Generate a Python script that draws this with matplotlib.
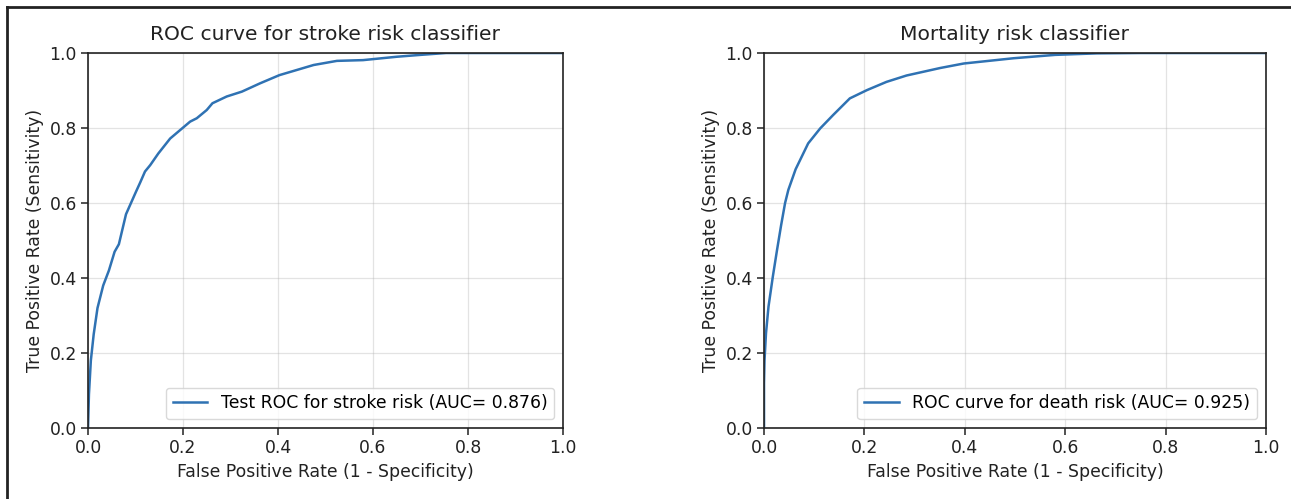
# ROC curves for the stroke and mortality risk classifiers
import matplotlib
matplotlib.use("Agg")
import matplotlib.pyplot as plt
from matplotlib.lines import Line2D

# stroke risk classifier
stroke_fpr = [0, 0.002, 0.006, 0.012, 0.020, 0.032, 0.044, 0.056, 0.065, 0.080,
              0.101, 0.110, 0.120, 0.131, 0.148, 0.173, 0.201, 0.215, 0.229, 0.250,
              0.262, 0.292, 0.324, 0.362, 0.403, 0.475, 0.524, 0.579, 0.65, 0.70,
              0.754, 1.0]
stroke_tpr = [0, 0.09, 0.18, 0.25, 0.32, 0.38, 0.42, 0.47, 0.49, 0.57,
              0.63, 0.655, 0.684, 0.701, 0.732, 0.772, 0.802, 0.817, 0.826, 0.848,
              0.866, 0.884, 0.897, 0.919, 0.941, 0.968, 0.979, 0.981, 0.99, 0.995,
              1.0, 1.0]
stroke_label = "Test ROC for stroke risk (AUC= 0.876)"

# mortality risk classifier
death_fpr = [0, 0, 0.001, 0.004, 0.009, 0.0175, 0.026, 0.034, 0.042, 0.0485,
             0.063, 0.088, 0.112, 0.138, 0.171, 0.205, 0.244, 0.284, 0.351, 0.398,
             0.497, 0.58, 0.663, 0.75, 1.0]
death_tpr = [0, 0.12, 0.18, 0.253, 0.324, 0.403, 0.475, 0.54, 0.60, 0.635,
             0.69, 0.759, 0.799, 0.835, 0.879, 0.901, 0.923, 0.94, 0.96, 0.972,
             0.986, 0.995, 0.999, 1.0, 1.0]
death_label = "ROC curve for death risk (AUC= 0.925)"

ticks = [0.0, 0.2, 0.4, 0.6, 0.8, 1.0]
tick_labels = ["0.0", "0.2", "0.4", "0.6", "0.8", "1.0"]

line_color = "#2f72b3"
fs = 12.4


def style_axes(ax, title):
    ax.set_xlim(0, 1)
    ax.set_ylim(0, 1)
    ax.set_xticks(ticks)
    ax.set_yticks(ticks)
    ax.set_xticklabels(tick_labels)
    ax.set_yticklabels(tick_labels)
    ax.tick_params(labelsize=fs, colors="#222222", length=5, width=1.1, pad=3)
    ax.grid(True, color="#b0b0b0", alpha=0.35, linewidth=0.9)
    for s in ax.spines.values():
        s.set_color("#222222")
        s.set_linewidth(1.2)
    ax.set_title(title, fontsize=14.6, color="#222222", pad=9)
    ax.set_xlabel("False Positive Rate (1 - Specificity)", fontsize=fs, color="#222222", labelpad=4)
    ax.set_ylabel("True Positive Rate (Sensitivity)", fontsize=fs, color="#222222", labelpad=4)


def main():
    fig = plt.figure(figsize=(12.91, 4.99), dpi=100)

    ax1 = fig.add_axes([88 / 1291, 1 - 428 / 499, 475 / 1291, 375 / 499])
    ax1.plot(stroke_fpr, stroke_tpr, color=line_color, lw=1.8, label=stroke_label)
    style_axes(ax1, "ROC curve for stroke risk classifier")
    ax1.legend(loc="lower right", fontsize=fs, framealpha=0.8, edgecolor="#d0d0d0")

    ax2 = fig.add_axes([764 / 1291, 1 - 428 / 499, 502 / 1291, 375 / 499])
    ax2.plot(death_fpr, death_tpr, color=line_color, lw=1.8, label=death_label)
    style_axes(ax2, "Mortality risk classifier")
    ax2.legend(loc="lower right", fontsize=fs, framealpha=0.8, edgecolor="#d0d0d0")

    # frame lines along the top and left edge of the picture
    fig.add_artist(Line2D([7 / 1291, 1], [1 - 7 / 499, 1 - 7 / 499], color="#222222", lw=2))
    fig.add_artist(Line2D([7 / 1291, 7 / 1291], [0, 1 - 7 / 499], color="#222222", lw=2))

    fig.savefig("out.png", dpi=100)


if __name__ == "__main__":
    main()
